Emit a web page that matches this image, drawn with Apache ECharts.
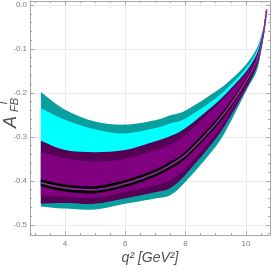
<!DOCTYPE html>
<html>
<head>
<meta charset="utf-8">
<script src="https://cdn.jsdelivr.net/npm/echarts@6/dist/echarts.min.js"></script>
<style>html,body{margin:0;padding:0;background:#fff}#c{width:273px;height:273px}</style>
</head>
<body>
<div id="c"></div>
<script>
// ---- data ----
const q         = [3.2, 4, 5, 6, 7, 7.5, 8, 9, 9.5, 10, 10.35, 10.5, 10.6, 10.69];
const tealUp    = [-0.198, -0.238, -0.265, -0.272, -0.262, -0.251, -0.240, -0.197, -0.170, -0.136, -0.100, -0.072, -0.046, -0.010];
const cyanUp    = [-0.235, -0.261, -0.283, -0.292, -0.280, -0.269, -0.258, -0.212, -0.181, -0.144, -0.107, -0.077, -0.049, -0.010];
const dpUp      = [-0.309, -0.330, -0.335, -0.330, -0.310, -0.298, -0.280, -0.224, -0.190, -0.152, -0.114, -0.082, -0.051, -0.010];
const purpleUp  = [-0.333, -0.348, -0.356, -0.350, -0.330, -0.317, -0.295, -0.231, -0.196, -0.157, -0.118, -0.085, -0.053, -0.010];
const blackUp   = [-0.396, -0.408, -0.412, -0.398, -0.374, -0.356, -0.333, -0.262, -0.219, -0.167, -0.122, -0.087, -0.053, -0.010];
const center    = [-0.404, -0.416, -0.420, -0.406, -0.382, -0.364, -0.341, -0.270, -0.226, -0.174, -0.128, -0.092, -0.057, -0.010];
const blackLow  = [-0.412, -0.424, -0.428, -0.414, -0.390, -0.372, -0.349, -0.278, -0.233, -0.181, -0.134, -0.097, -0.061, -0.010];
const purpleLow = [-0.433, -0.436, -0.438, -0.425, -0.410, -0.398, -0.372, -0.294, -0.244, -0.186, -0.138, -0.099, -0.061, -0.010];
const dpLow     = [-0.452, -0.450, -0.452, -0.440, -0.426, -0.416, -0.386, -0.305, -0.252, -0.192, -0.144, -0.103, -0.063, -0.010];
const tealLow   = [-0.458, -0.463, -0.465, -0.452, -0.440, -0.432, -0.402, -0.322, -0.265, -0.197, -0.152, -0.108, -0.066, -0.010];

const xMajor = [4, 6, 8, 10];
const xMinor = [3, 3.5, 4.5, 5, 5.5, 6.5, 7, 7.5, 8.5, 9, 9.5, 10.5];
const yMajor = [-0.5, -0.4, -0.3, -0.2, -0.1, 0];
const yMinor = [-0.52, -0.48, -0.46, -0.44, -0.42, -0.38, -0.36, -0.34, -0.32, -0.28, -0.26, -0.24, -0.22,
                -0.18, -0.16, -0.14, -0.12, -0.08, -0.06, -0.04, -0.02];

const X_MIN = 2.84, X_MAX = 10.8, Y_MIN = -0.523, Y_MAX = 0.009;
const FRAME = '#a8a8a8', GRIDC = '#ebebeb', LBL = '#808080';
const FONT = "'Liberation Sans Narrow', 'Liberation Sans', sans-serif";

const bands = [
  { up: tealUp,   low: tealLow,   color: '#0a9e9e' },
  { up: cyanUp,   low: dpLow,     color: '#00ffff' },
  { up: dpUp,     low: dpLow,     color: '#560056' },
  { up: purpleUp, low: purpleLow, color: '#800080' },
  { up: blackUp,  low: blackLow,  color: '#000000' }
];

// Catmull-Rom -> cubic bezier path through pixel points (rendering only)
function smoothSeg(P, t, first) {
  let d = (first ? 'M' : 'L') + P[0][0] + ',' + P[0][1];
  for (let i = 0; i < P.length - 1; i++) {
    const p0 = P[Math.max(i - 1, 0)], p1 = P[i], p2 = P[i + 1], p3 = P[Math.min(i + 2, P.length - 1)];
    const c1 = [p1[0] + (p2[0] - p0[0]) * t / 6, p1[1] + (p2[1] - p0[1]) * t / 6];
    const c2 = [p2[0] - (p3[0] - p1[0]) * t / 6, p2[1] - (p3[1] - p1[1]) * t / 6];
    d += 'C' + c1[0] + ',' + c1[1] + ',' + c2[0] + ',' + c2[1] + ',' + p2[0] + ',' + p2[1];
  }
  return d;
}

function renderBand(params, api) {
  const b = bands[params.dataIndex];
  const U = q.map((x, i) => api.coord([x, b.up[i]]));
  const L = q.map((x, i) => api.coord([x, b.low[i]])).reverse();
  const d = smoothSeg(U, 1, true) + smoothSeg(L, 1, false) + 'Z';
  return { type: 'path', shape: { pathData: d }, style: { fill: b.color, stroke: null } };
}

function xAx(pos, ticks, len, major) {
  return {
    type: 'value', position: pos, min: X_MIN, max: X_MAX,
    axisLine: { show: major, onZero: false, lineStyle: { color: FRAME, width: 1 } },
    axisTick: { show: true, inside: true, length: len, customValues: ticks, lineStyle: { color: FRAME } },
    axisLabel: { show: major && pos === 'bottom', customValues: ticks, fontSize: 8, color: LBL, margin: 5, fontFamily: FONT },
    splitLine: { show: major && pos === 'bottom', lineStyle: { color: GRIDC, width: 1 } },
    minorTick: { show: false }
  };
}
function yAx(pos, ticks, len, major) {
  return {
    type: 'value', position: pos, min: Y_MIN, max: Y_MAX,
    axisLine: { show: major, onZero: false, lineStyle: { color: FRAME, width: 1 } },
    axisTick: { show: true, inside: true, length: len, customValues: ticks, lineStyle: { color: FRAME } },
    axisLabel: { show: major && pos === 'left', customValues: ticks, fontSize: 8, color: LBL, margin: 3, fontFamily: FONT,
      formatter: v => (Math.abs(v) < 1e-9 ? '0.0' : v.toFixed(1)) },
    splitLine: { show: major && pos === 'left', lineStyle: { color: GRIDC, width: 1 } },
    minorTick: { show: false }
  };
}

const TXT = '#505050';
const chart = echarts.init(document.getElementById('c'), null, { renderer: 'canvas' });
chart.setOption({
  animation: false,
  backgroundColor: '#fff',
  grid: { left: 30, right: 3, top: 1, bottom: 38, containLabel: false },
  xAxis: [xAx('bottom', xMajor, 4, true), xAx('bottom', xMinor, 2, false), xAx('top', xMajor, 4, true), xAx('top', xMinor, 2, false)],
  yAxis: [yAx('left', yMajor, 4, true), yAx('left', yMinor, 2, false), yAx('right', yMajor, 4, true), yAx('right', yMinor, 2, false)],
  series: [
    { type: 'custom', renderItem: renderBand, data: bands.map((b, i) => [q[0], b.up[0], i]), silent: true, z: 2 },
    { type: 'line', data: q.map((x, i) => [x, center[i]]), symbol: 'none', smooth: 0.3,
      lineStyle: { color: '#e0203a', width: 1.6 }, silent: true, z: 3 },
    { type: 'line', data: q.map((x, i) => [x, center[i]]), symbol: 'none', smooth: 0.3,
      lineStyle: { color: '#2a3cff', width: 1.6, type: [2, 2] }, silent: true, z: 4 }
  ],
  graphic: [
    { type: 'text', x: 150, y: 258,
      style: { text: 'q² [GeV²]', fontSize: 14, fontStyle: 'italic', fontFamily: FONT, fill: TXT, align: 'center', verticalAlign: 'middle' } },
    { type: 'group', x: 0, y: 128, rotation: Math.PI / 2, children: [
      { type: 'text', x: 0, y: 10.5, style: { text: 'A', fontSize: 18, fontStyle: 'italic', fontFamily: FONT, fill: TXT, align: 'left', verticalAlign: 'middle' } },
      { type: 'text', x: 16, y: 15, style: { text: 'FB', fontSize: 11, fontStyle: 'italic', fontFamily: FONT, fill: TXT, align: 'left', verticalAlign: 'middle' } },
      { type: 'text', x: 22, y: 4.5, style: { text: 'T', fontSize: 10, fontStyle: 'italic', fontFamily: FONT, fill: TXT, align: 'left', verticalAlign: 'middle' } }
    ] }
  ]
});
</script>
</body>
</html>
